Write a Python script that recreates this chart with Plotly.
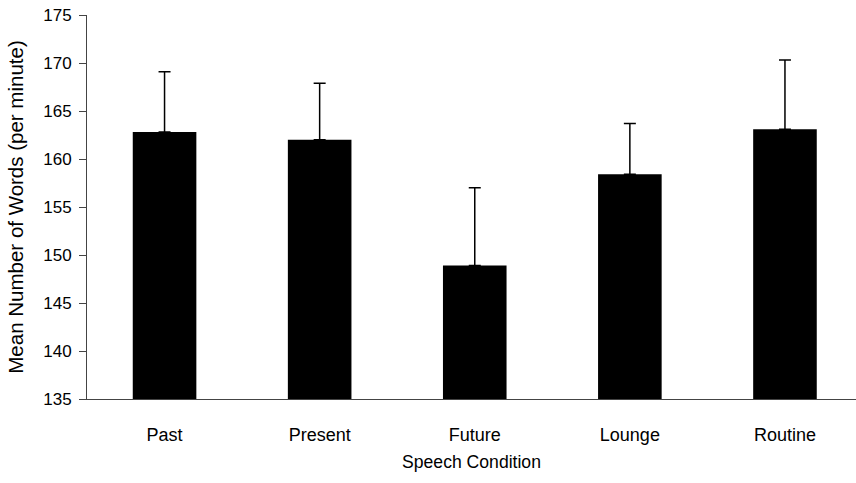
import plotly.graph_objects as go

categories = ["Past", "Present", "Future", "Lounge", "Routine"]
means = [162.8, 162.0, 148.9, 158.4, 163.1]
errors = [6.3, 5.9, 8.1, 5.3, 7.2]
y_ticks = [135, 140, 145, 150, 155, 160, 165, 170, 175]

FONT = "Liberation Sans Narrow, Arial Narrow, Liberation Sans, Arial, sans-serif"

fig = go.Figure()
fig.add_trace(go.Bar(
    x=categories,
    y=means,
    width=0.41,
    marker=dict(color="black", line=dict(width=0)),
    error_y=dict(type="data", symmetric=False, array=errors, arrayminus=[0]*5,
                 color="black", thickness=1.5, width=6),
    showlegend=False,
))

fig.update_layout(
    width=856, height=483,
    margin=dict(l=87, r=0, t=15, b=84),
    paper_bgcolor="white", plot_bgcolor="white",
    font=dict(family=FONT, size=17, color="black"),
)
fig.update_xaxes(
    type="category",
    range=[-0.5, 4.458],
    showline=True, linecolor="#444", linewidth=1,
    ticks="", showgrid=False, automargin=False,
    tickfont=dict(size=18),
    ticklabelstandoff=19,
    title=dict(text="Speech Condition", font=dict(size=17.6), standoff=12),
)
fig.update_yaxes(
    range=[135, 175],
    tickvals=y_ticks,
    showline=True, linecolor="#444", linewidth=1,
    ticks="outside", ticklen=7, tickcolor="#444",
    ticklabelstandoff=4,
    showgrid=False, zeroline=False, automargin=False,
    tickfont=dict(size=17),
    title=dict(text="Mean Number of Words (per minute)", font=dict(size=20.5), standoff=14),
)

fig.write_html("out.html", config={"displayModeBar": False},
               post_script="document.body.style.margin='0';")
